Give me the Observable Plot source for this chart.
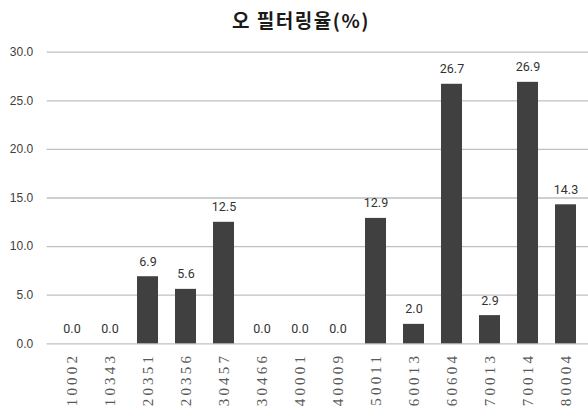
<!DOCTYPE html>
<html>
<head>
<meta charset="utf-8">
<script src="https://cdn.jsdelivr.net/npm/d3@7"></script>
<script src="https://cdn.jsdelivr.net/npm/@observablehq/plot@0.6"></script>
<style>
  html, body { margin: 0; padding: 0; background: #fff; }
  #wrap { width: 588px; height: 409px; overflow: hidden; position: relative; }
  #title {
    height: 40px; line-height: 40px; text-align: center;
    padding-left: 14px; box-sizing: border-box;
    font-family: "Noto Sans CJK KR", sans-serif; font-weight: 700;
    font-size: 19px; letter-spacing: 1.5px; color: #1a1a1a;
  }
  #chart g[aria-label="x-axis tick label"] text {
    font-family: "Liberation Serif", "DejaVu Serif", serif;
    letter-spacing: 3.2px;
  }
  #chart g[aria-label="y-axis tick label"] text {
    font-family: "Liberation Sans", "Noto Sans", sans-serif;
  }
  #chart g.values text {
    font-family: Roboto, "Liberation Sans", sans-serif;
  }
</style>
</head>
<body>
<div id="wrap">
  <div id="title">오 필터링율(%)</div>
  <div id="chart"></div>
</div>
<script>
// Item codes along the x axis
const codes = ["10002", "10343", "20351", "20356", "30457", "30466", "40001",
               "40009", "50011", "60013", "60604", "70013", "70014", "80004"];
// False-filtering rate (%) for each code
const rates = [0.0, 0.0, 6.9, 5.6, 12.5, 0.0, 0.0, 0.0, 12.9, 2.0, 26.7, 2.9, 26.9, 14.3];
// Y-axis ticks
const yTicks = [0, 5, 10, 15, 20, 25, 30];

const rows = codes.map((code, i) => ({code, rate: rates[i]}));

const chart = Plot.plot({
  width: 588,
  height: 369,
  marginTop: 11.7,
  marginBottom: 65.7,
  marginLeft: 46.7,
  marginRight: 0,
  x: {
    domain: codes,
    range: [46.7, 590.5],
    paddingInner: 0.44,
    paddingOuter: 0.22,
    label: null
  },
  y: {domain: [0, 30], label: null},
  marks: [
    Plot.ruleY(yTicks, {stroke: "#bfbfbf", strokeWidth: 1.3}),
    Plot.barY(rows, {x: "code", y: "rate", fill: "#404040"}),
    Plot.text(rows, {
      x: "code", y: "rate",
      text: d => d.rate.toFixed(1),
      dy: -15,
      fill: "#333333",
      fontSize: 12.5,
      className: "values"
    }),
    Plot.axisY({
      ticks: yTicks,
      tickFormat: d => d.toFixed(1),
      tickSize: 0,
      tickPadding: 14,
      fontSize: 12,
      fill: "#404040",
      label: null
    }),
    Plot.axisX({
      tickSize: 0,
      tickPadding: 9,
      tickRotate: -90,
      fontSize: 15,
      fill: "#595959",
      label: null
    })
  ]
});
document.getElementById("chart").appendChild(chart);
</script>
</body>
</html>
